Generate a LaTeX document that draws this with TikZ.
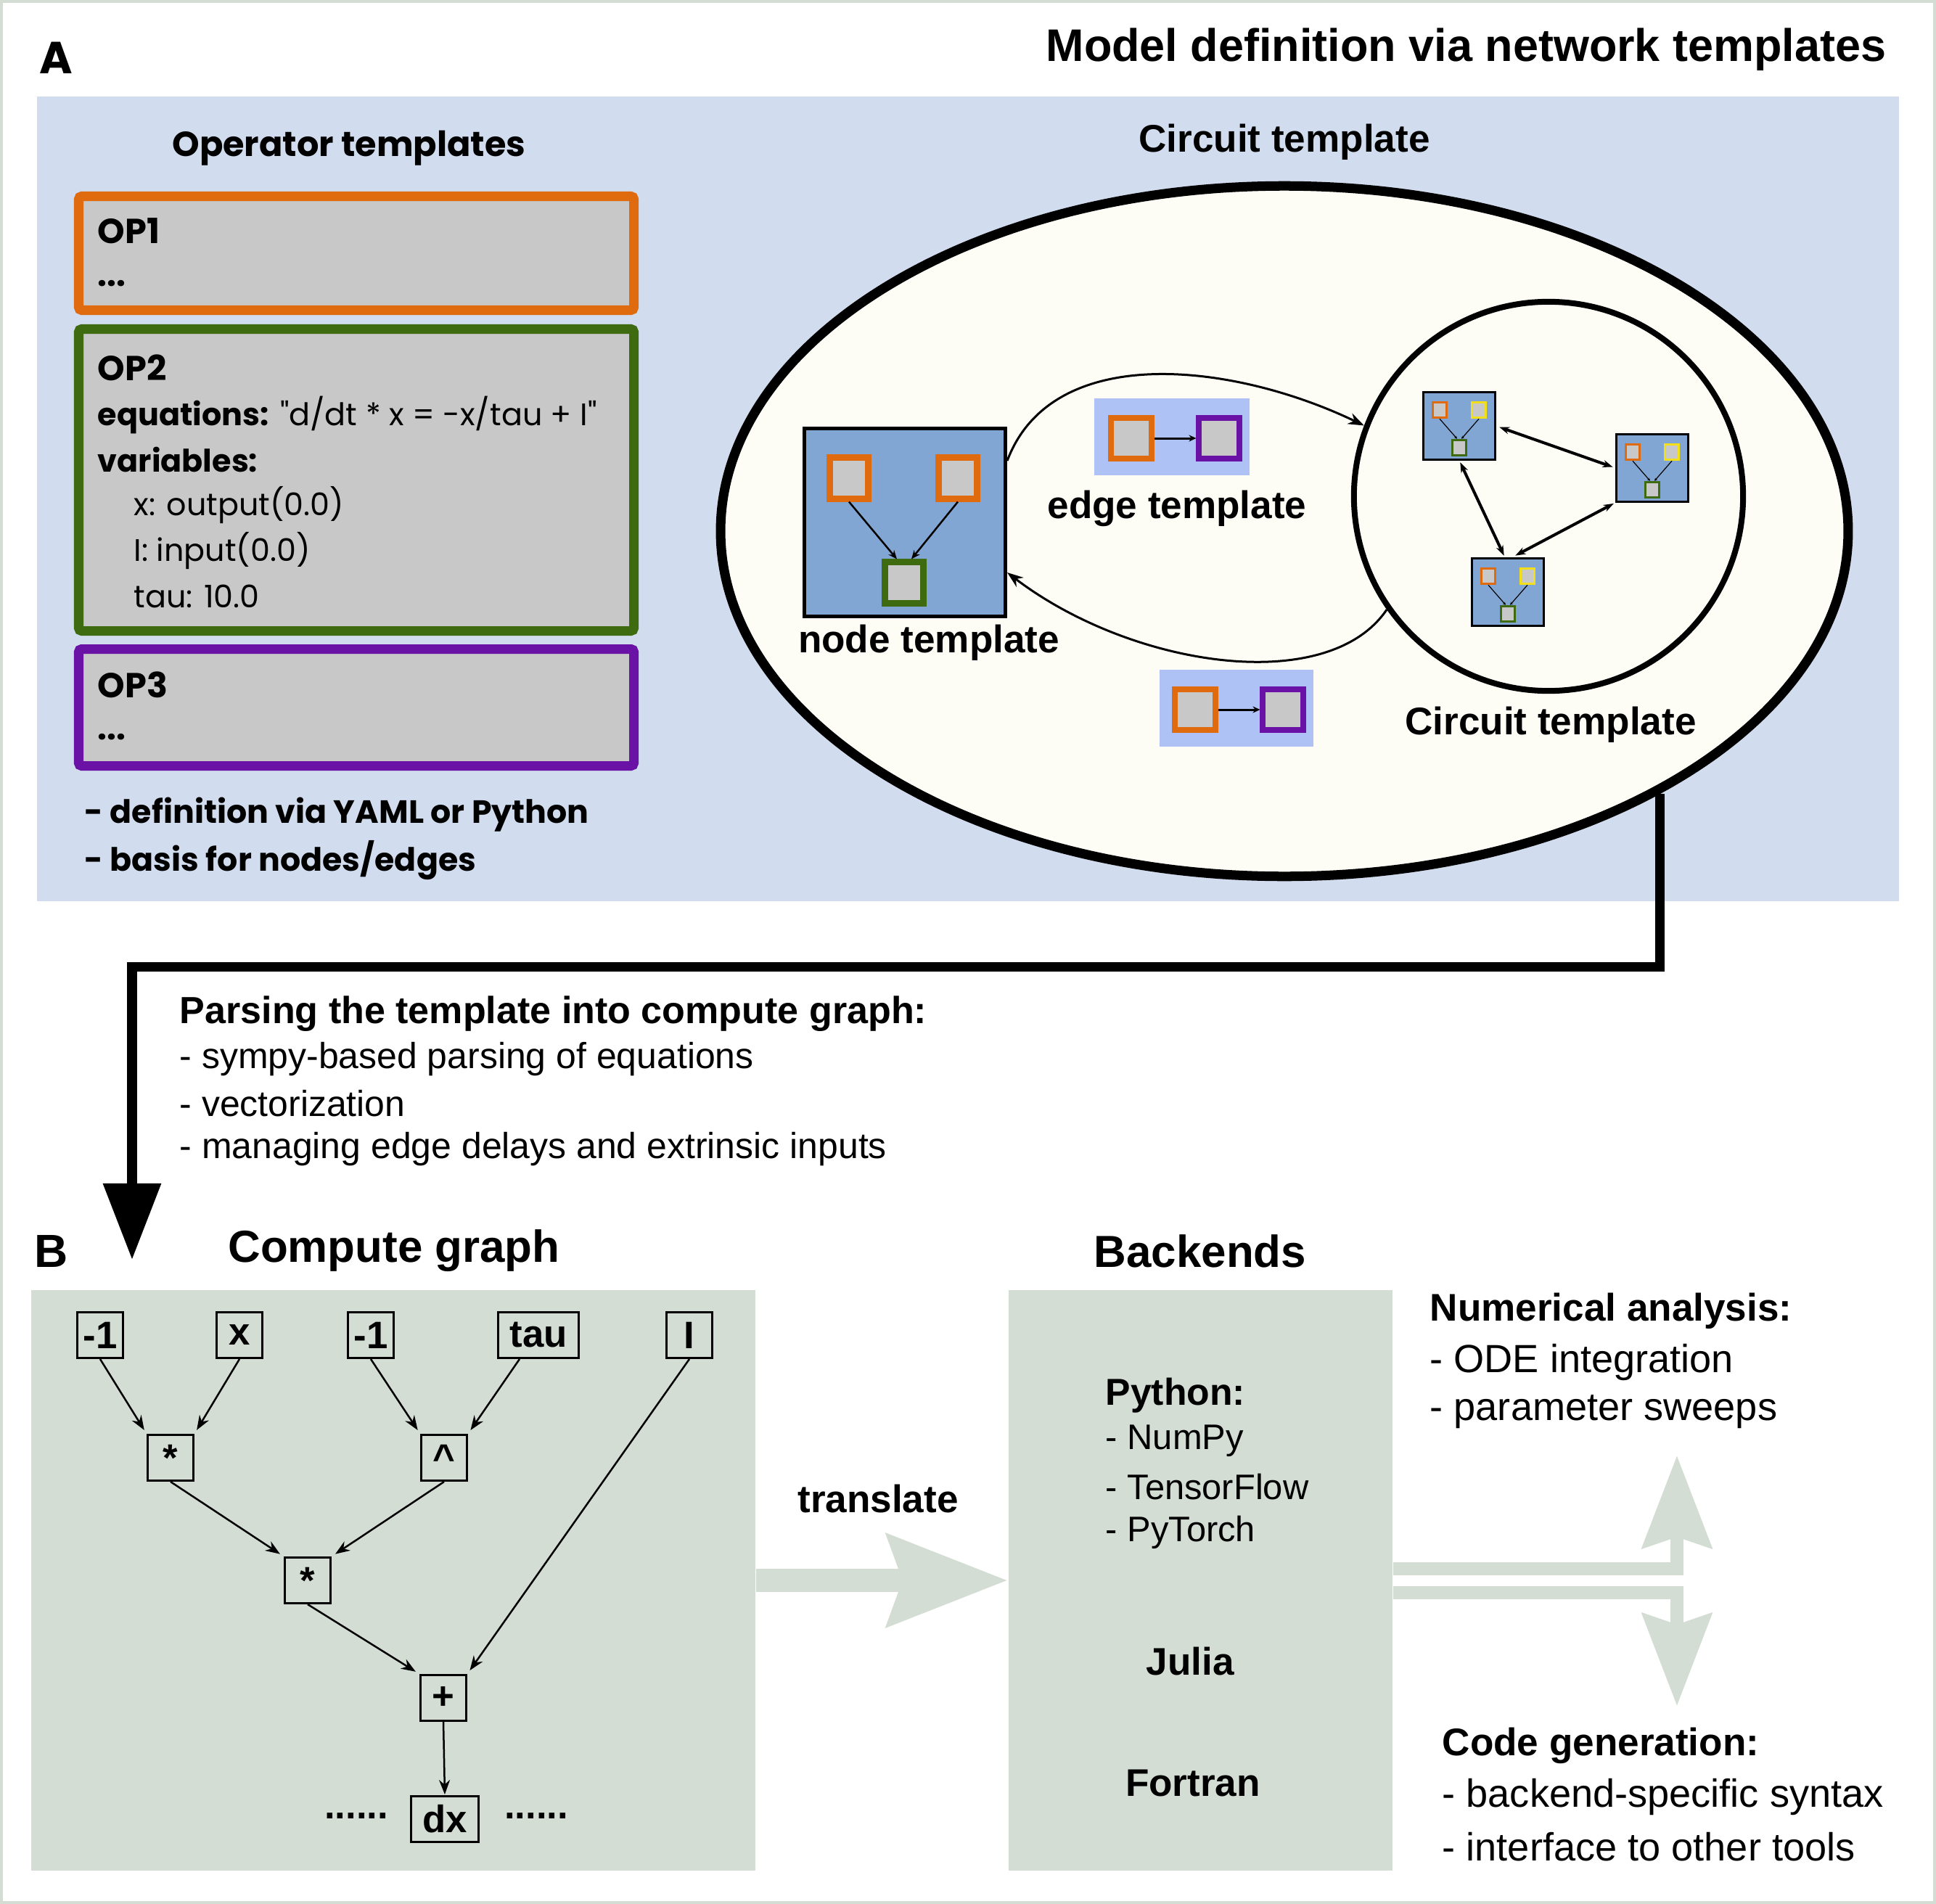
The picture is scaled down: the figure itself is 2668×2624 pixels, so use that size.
\documentclass[tikz,border=0pt]{standalone}
\usepackage{fontspec}
\setmainfont{Liberation Sans}
\newfontfamily\popfont{Poppins}
\usetikzlibrary{arrows.meta,shapes.geometric,positioning}
\definecolor{panela}{HTML}{D1DCEE}
\definecolor{panelb}{HTML}{D3DDD4}
\definecolor{ivory}{HTML}{FDFDF6}
\definecolor{nodeblue}{HTML}{82A6D4}
\definecolor{edgeblue}{HTML}{AEC2F6}
\definecolor{boxgray}{HTML}{C8C8C8}
\definecolor{oporange}{HTML}{E06B0E}
\definecolor{opgreen}{HTML}{3E6B10}
\definecolor{oppurple}{HTML}{6A12A5}
\definecolor{opyellow}{HTML}{F2DF1A}
\newcommand{\fsz}[1]{\fontsize{#1}{#1}\selectfont}
\begin{document}
\begin{tikzpicture}[x=0.01cm,y=-0.01cm,
    lbl/.style={inner sep=0, font=\bfseries\fsz{15.1}},
    txt/.style={inner sep=0, anchor=west, font=\fsz{14.2}},
    optxt/.style={inner sep=0, anchor=west, font=\popfont\fsz{12.2}},
    opbox/.style={draw, line width=0.13cm, fill=boxgray, rounded corners=0.04cm},
    tsq/.style={draw, fill=boxgray, line width=0.09cm, inner sep=0, minimum width=0.53cm, minimum height=0.56cm},
    msq/.style={draw, fill=boxgray, line width=0.035cm, inner sep=0, minimum width=0.19cm, minimum height=0.21cm},
    gnode/.style={draw, line width=0.03cm, inner sep=0.06cm, minimum size=0.63cm, font=\bfseries\fsz{15}},
    garr/.style={-{Stealth[length=0.2cm,width=0.15cm]}, line width=0.025cm, shorten >=0.06cm},
    flow/.style={draw=panelb, line width=0.32cm, line join=miter}]
      \useasboundingbox (0,0) rectangle (2668,2624);
      \draw[panelb, line width=0.04cm] (2,2) rectangle (2666,2622);

      \node[inner sep=0, font=\popfont\bfseries\fsz{17.6}] (lblA) at (77,80) {A};
      \node[inner sep=0, anchor=east, font=\bfseries\fsz{17.9}] (title) at (2600,68) {Model definition via network templates};
      \fill[panela] (51,133) rectangle (2617,1242);

      \node[inner sep=0, font=\popfont\bfseries\fsz{13.6}] (optitle) at (481,204) {Operator templates};
      \draw[opbox, draw=oporange] (108.5,270.5) rectangle (873.5,427.5);
      \draw[opbox, draw=opgreen] (108.5,453.5) rectangle (873.5,869.5);
      \draw[opbox, draw=oppurple] (108.5,894.5) rectangle (873.5,1055.5);
      \node[optxt, font=\popfont\bfseries\fsz{13.6}] (op1) at (134,318) {OP1};
      \node[optxt, font=\popfont\bfseries\fsz{13}] (op1dots) at (134,391) {...};
      \node[optxt, font=\popfont\bfseries\fsz{13.6}] (op2) at (134,507) {OP2};
      \node[optxt] (op2eq) at (134,572) {\textbf{equations:} "d/dt * x = -x/tau + I"};
      \node[optxt, font=\popfont\bfseries\fsz{12.2}] (op2var) at (134,633) {variables:};
      \node[optxt] (op2x) at (184,696) {x: output(0.0)};
      \node[optxt] (op2i) at (184,759) {I: input(0.0)};
      \node[optxt] (op2tau) at (184,822) {tau: 10.0};
      \node[optxt, font=\popfont\bfseries\fsz{13.6}] (op3) at (134,944) {OP3};
      \node[optxt, font=\popfont\bfseries\fsz{13}] (op3dots) at (134,1016) {...};
      \node[optxt, font=\popfont\bfseries\fsz{12.6}] (bul1) at (116,1123) {- definition via YAML or Python};
      \node[optxt, font=\popfont\bfseries\fsz{12.6}] (bul2) at (116,1186) {- basis for nodes/edges};

      \node[lbl] (cthead) at (1770,196) {Circuit template};
      \node[draw, ellipse, line width=0.13cm, fill=ivory, minimum width=15.53cm, minimum height=9.51cm, inner sep=0] (ell) at (1770,732) {};
      \node[draw, circle, line width=0.08cm, minimum size=5.36cm, inner sep=0] (ic) at (2134,684) {};

      \node[draw, fill=nodeblue, line width=0.05cm, minimum width=2.77cm, minimum height=2.58cm, inner sep=0] (ntmpl) at (1247,720) {};
      \node[tsq, draw=oporange] (no1) at (1170,659) {};
      \node[tsq, draw=oporange] (no2) at (1320,659) {};
      \node[tsq, draw=opgreen] (ng) at (1246,803) {};
      \draw[-{Stealth[length=0.12cm,width=0.1cm]}, line width=0.025cm] (no1.south) -- ([xshift=-0.1cm]ng.north);
      \draw[-{Stealth[length=0.12cm,width=0.1cm]}, line width=0.025cm] (no2.south) -- ([xshift=0.1cm]ng.north);
      \node[lbl] (ntlabel) at (1280,886) {node template};

      \node[fill=edgeblue, minimum width=2.13cm, minimum height=1.05cm, inner sep=0] (et1) at (1615,602) {};
      \node[tsq, draw=oporange, line width=0.08cm, minimum width=0.55cm, minimum height=0.56cm] (eo1) at (1559,604) {};
      \node[tsq, draw=oppurple, line width=0.08cm, minimum width=0.55cm, minimum height=0.56cm] (ep1) at (1680,604) {};
      \draw[-{Stealth[length=0.1cm,width=0.09cm]}, line width=0.03cm] (eo1.east) -- (ep1.west);
      \node[lbl] (etlabel) at (1622,701) {edge template};

      \node[fill=edgeblue, minimum width=2.12cm, minimum height=1.05cm, inner sep=0] (et2) at (1704,976) {};
      \node[tsq, draw=oporange, line width=0.08cm, minimum width=0.55cm, minimum height=0.56cm] (eo2) at (1647,978) {};
      \node[tsq, draw=oppurple, line width=0.08cm, minimum width=0.55cm, minimum height=0.56cm] (ep2) at (1768,978) {};
      \draw[-{Stealth[length=0.1cm,width=0.09cm]}, line width=0.03cm] (eo2.east) -- (ep2.west);

      \foreach \nm/\cx/\cy in {c1/2011/587, c2/2277/645, c3/2078/816} {
        \node[draw, fill=nodeblue, line width=0.03cm, minimum width=0.98cm, minimum height=0.92cm, inner sep=0] (\nm) at (\cx,\cy) {};
        \node[msq, draw=oporange] (\nm o) at (\cx-27,\cy-22) {};
        \node[msq, draw=opyellow] (\nm y) at (\cx+27,\cy-22) {};
        \node[msq, draw=opgreen] (\nm g) at (\cx,\cy+30) {};
        \draw[-{Stealth[length=0.04cm,width=0.04cm]}, line width=0.012cm] (\nm o.south) -- ([xshift=-0.03cm]\nm g.north);
        \draw[-{Stealth[length=0.04cm,width=0.04cm]}, line width=0.012cm] (\nm y.south) -- ([xshift=0.03cm]\nm g.north);
      }
      \draw[{Stealth[length=0.14cm,width=0.1cm]}-{Stealth[length=0.14cm,width=0.1cm]}, line width=0.04cm, shorten <=0.05cm, shorten >=0.04cm] (c1.east) -- (c2.west);
      \draw[{Stealth[length=0.14cm,width=0.1cm]}-{Stealth[length=0.14cm,width=0.1cm]}, line width=0.04cm, shorten <=0.03cm, shorten >=0.06cm] (c2.south west) -- ([xshift=0.05cm]c3.north);
      \draw[{Stealth[length=0.14cm,width=0.1cm]}-{Stealth[length=0.14cm,width=0.1cm]}, line width=0.04cm, shorten <=0.03cm, shorten >=0.03cm] (c1.south) -- ([xshift=-0.04cm]c3.north);
      \node[lbl] (iclabel) at (2137,999) {Circuit template};

      \draw[-{Stealth[length=0.22cm,width=0.16cm]}, line width=0.03cm] ([yshift=0.85cm]ntmpl.east) .. controls (1450,470) and (1700,500) .. (ic.159);
      \draw[-{Stealth[length=0.22cm,width=0.16cm]}, line width=0.03cm] (ic.215) .. controls (1830,960) and (1560,920) .. ([yshift=-0.69cm]ntmpl.east);

      \coordinate (cgin) at (182,1736);
      \draw[line width=0.13cm, line join=miter, -{Triangle[length=1.05cm,width=0.77cm]}] (ell.-35.2) |- (182,1332) -- (cgin);
      \node[txt, font=\bfseries\fsz{14.8}] (parsehead) at (247,1397) {Parsing the template into compute graph:};
      \node[txt] (parse1) at (247,1460) {- sympy-based parsing of equations};
      \node[txt] (parse2) at (247,1521) {- vectorization};
      \node[txt] (parse3) at (247,1584) {- managing edge delays and extrinsic inputs};

      \node[inner sep=0, font=\bfseries\fsz{18.2}] (lblB) at (71,1724) {B};
      \node[inner sep=0, font=\bfseries\fsz{17.6}] (cghead) at (543,1724) {Compute graph};
      \node[inner sep=0, font=\bfseries\fsz{17.6}] (behead) at (1654,1724) {Backends};
      \node[fill=panelb, minimum width=9.98cm, minimum height=8.0cm, inner sep=0] (cgbg) at (542,2178) {};
      \node[fill=panelb, minimum width=5.29cm, minimum height=8.0cm, inner sep=0] (bebg) at (1654.5,2178) {};

      \node[gnode] (n1) at (138,1840) {-1};
      \node[gnode] (n2) at (330,1840) {x};
      \node[gnode] (n3) at (511,1840) {-1};
      \node[gnode, minimum width=1.11cm] (n4) at (742,1840) {tau};
      \node[gnode] (n5) at (950,1840) {I};
      \node[gnode] (m1) at (235,2009) {*};
      \node[gnode] (pw) at (612,2009) {\^{}};
      \node[gnode] (m2) at (424,2178) {*};
      \node[gnode] (pl) at (611,2340) {+};
      \node[gnode, minimum width=0.92cm] (dx) at (613,2507) {dx};
      \node[inner sep=0, font=\bfseries\fsz{15}] (dotsl) at (491,2503) {......};
      \node[inner sep=0, font=\bfseries\fsz{15}] (dotsr) at (739,2503) {......};
      \draw[garr] (n1.south) -- (m1.north west);
      \draw[garr] (n2.south) -- (m1.north east);
      \draw[garr] (n3.south) -- (pw.north west);
      \draw[garr] ([xshift=-0.26cm]n4.south) -- (pw.north east);
      \draw[garr] (m1.south) -- (m2.north west);
      \draw[garr] (pw.south) -- (m2.north east);
      \draw[garr] (m2.south) -- (pl.north west);
      \draw[garr] (n5.south) -- (pl.north east);
      \draw[garr, shorten >=0.01cm] (pl.south) -- (dx.north);

      \draw[flow, -{Stealth[length=1.65cm,width=1.24cm,inset=0.2cm]}] (cgbg.east) -- (bebg.west);
      \node[lbl] (trlabel) at (1210,2066) {translate};

      \node[txt, font=\bfseries\fsz{14.7}] (py) at (1523,1923) {Python:};
      \node[txt, font=\fsz{13.9}] (py1) at (1523,1986) {- NumPy};
      \node[txt, font=\fsz{13.9}] (py2) at (1523,2049) {- TensorFlow};
      \node[txt, font=\fsz{13.9}] (py3) at (1523,2112) {- PyTorch};
      \node[lbl] (julia) at (1640,2290) {Julia};
      \node[lbl] (fortran) at (1644,2457) {Fortran};

      \draw[flow, line width=0.18cm, -{Stealth[length=1.27cm,width=0.95cm,inset=0.15cm]}] ([yshift=0.16cm]bebg.east) -| (2311,2006);
      \draw[flow, line width=0.18cm, -{Stealth[length=1.27cm,width=0.95cm,inset=0.15cm]}] ([yshift=-0.17cm]bebg.east) -| (2311,2351);

      \node[txt, font=\bfseries\fsz{15.1}] (numhead) at (1970,1807) {Numerical analysis:};
      \node[txt, font=\fsz{15.4}] (num1) at (1970,1877) {- ODE integration};
      \node[txt, font=\fsz{15.4}] (num2) at (1970,1946) {- parameter sweeps};
      \node[txt, font=\bfseries\fsz{15.1}] (codehead) at (1987,2406) {Code generation:};
      \node[txt, font=\fsz{15.4}] (code1) at (1987,2476) {- backend-specific syntax};
      \node[txt, font=\fsz{15.4}] (code2) at (1987,2545) {- interface to other tools};
    \end{tikzpicture}
\end{document}
